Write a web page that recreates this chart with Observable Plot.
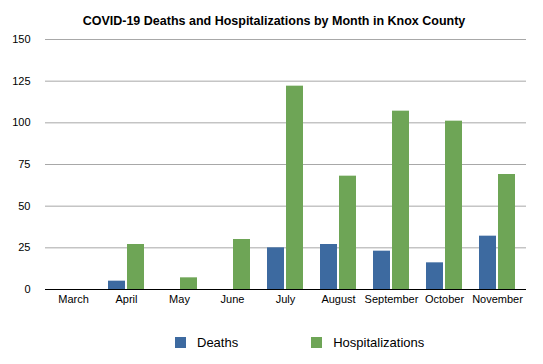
<!DOCTYPE html>
<html>
<head>
<meta charset="utf-8">
<script src="https://cdn.jsdelivr.net/npm/d3@7"></script>
<script src="https://cdn.jsdelivr.net/npm/@observablehq/plot@0.6"></script>
<style>
  body { margin: 0; background: #fff; font-family: "Liberation Sans", Helvetica, Arial, sans-serif; }
  #title { width: 543px; height: 30px; box-sizing: border-box; padding-top: 12px; padding-left: 5px; line-height: 18px; text-align: center; font-weight: bold; font-size: 12.5px; color: #000; }
  #legend { width: 543px; height: 49px; box-sizing: border-box; padding-top: 21px; padding-left: 175px; display: flex; align-items: flex-start; font-size: 13px; line-height: 13px; color: #000; }
  .item { display: flex; align-items: center; height: 13px; }
  .sw { width: 11px; height: 11px; margin-right: 11px; }
</style>
</head>
<body>
<div id="title">COVID-19 Deaths and Hospitalizations by Month in Knox County</div>
<div id="chart"></div>
<div id="legend"></div>
<script>
const months = ["March", "April", "May", "June", "July", "August", "September", "October", "November"];
const deaths = [0, 5, 0, 0, 25, 27, 23, 16, 32];
const hospitalizations = [0, 27, 7, 30, 122, 68, 107, 101, 69];
const yTicks = [0, 25, 50, 75, 100, 125, 150];
const seriesNames = ["Deaths", "Hospitalizations"];
const seriesColors = ["#3d6aa0", "#6ea556"];

const deathRows = months.map((m, i) => ({month: m, value: deaths[i]}));
const hospRows = months.map((m, i) => ({month: m, value: hospitalizations[i]}));

const chart = Plot.plot({
  width: 543,
  height: 285,
  marginTop: 9,
  marginBottom: 26,
  marginLeft: 45,
  marginRight: 17,
  style: {fontFamily: '"Liberation Sans", Helvetica, Arial, sans-serif', fontSize: "11px", color: "#000", background: "#fff"},
  x: {domain: months, paddingInner: 0.32, paddingOuter: 0.16, tickSize: 0, tickPadding: 6, label: null},
  y: {domain: [0, 150], ticks: yTicks, tickSize: 0, tickPadding: 15, label: null},
  marks: [
    Plot.ruleY(yTicks.filter(d => d > 0), {stroke: "#a8a8a8", strokeWidth: 1}),
    Plot.barY(deathRows, {x: "month", y: "value", fill: seriesColors[0], insetRight: 19}),
    Plot.barY(hospRows, {x: "month", y: "value", fill: seriesColors[1], insetLeft: 19}),
    Plot.ruleY([0], {stroke: "#000", strokeWidth: 1})
  ]
});
document.getElementById("chart").appendChild(chart);

const legend = document.getElementById("legend");
seriesNames.forEach((name, i) => {
  const item = document.createElement("div");
  item.className = "item";
  if (i > 0) item.style.marginLeft = "73px";
  const sw = document.createElement("div");
  sw.className = "sw";
  sw.style.background = seriesColors[i];
  const label = document.createElement("span");
  label.textContent = name;
  item.appendChild(sw);
  item.appendChild(label);
  legend.appendChild(item);
});
</script>
</body>
</html>
